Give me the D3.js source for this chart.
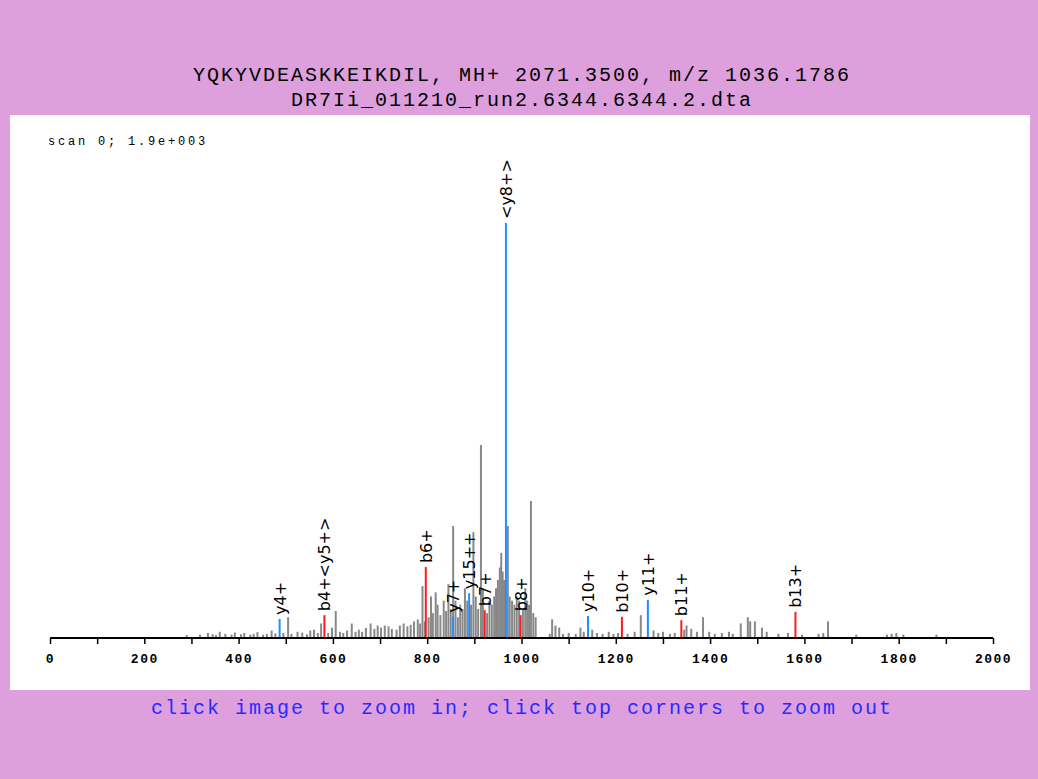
<!DOCTYPE html>
<html><head><meta charset="utf-8">
<script src="https://cdn.jsdelivr.net/npm/d3@7"></script>
<style>
body{margin:0;background:#dda0dd;}
svg{display:block;}
</style></head>
<body><svg id="c" width="1038" height="779"></svg>
<script>
// title lines
const titleLines = ["YQKYVDEASKKEIKDIL, MH+ 2071.3500, m/z 1036.1786", "DR7Ii_011210_run2.6344.6344.2.dta"];
const scanLabel = "scan 0; 1.9e+003";
const footer = "click image to zoom in; click top corners to zoom out";

// unassigned peaks: m/z and relative intensity (%)
const grayMz = [290,318,335,345,352,360,372,385,392,405,412,425,432,440,452,460,470,478,495,505,512,525,535,545,552,560,568,575,590,598,606,615,622,630,640,648,655,662,670,680,688,695,702,710,718,725,735,742,750,758,765,772,780,785,790,795,803,808,812,818,822,828,835,840,845,850,855,860,865,870,875,880,885,893,898,903,908,914,918,927,932,937,942,946,950,954,957,960,963,971,975,980,985,990,995,1003,1008,1012,1016,1020,1025,1030,1060,1065,1072,1080,1088,1100,1115,1125,1132,1150,1160,1172,1185,1195,1205,1225,1240,1253,1280,1290,1300,1315,1325,1345,1350,1360,1372,1385,1398,1410,1425,1440,1448,1465,1480,1485,1495,1510,1520,1545,1565,1595,1630,1640,1650,1710,1775,1785,1795,1810,1880];
const grayInt = [0.7,0.8,1.2,0.9,0.7,1.5,1.0,0.8,1.3,0.9,1.2,0.8,1.0,1.4,0.8,1.0,1.8,1.1,1.2,5.0,1.0,1.5,1.3,0.9,1.8,2.0,1.2,3.5,1.2,2.5,6.5,1.5,1.2,1.8,3.5,1.5,2.0,1.5,2.4,3.5,2.2,3.0,2.5,3.0,2.8,2.2,2.0,3.0,3.5,2.8,3.2,4.0,4.5,3.5,12.5,4.0,5.0,10.0,6.0,11.0,8.0,5.5,9.0,6.5,13.0,7.0,27.0,9.0,5.0,8.0,7.0,12.0,9.0,8.0,25.5,10.0,7.0,46.5,12.0,6.0,9.0,8.0,10.0,12.0,14.0,17.0,20.5,16.0,14.0,27.0,10.0,9.0,8.0,10.0,9.0,7.0,12.0,9.0,8.0,33.0,6.0,5.0,1.0,4.5,3.0,2.5,1.0,1.2,1.0,2.5,1.5,2.0,1.2,1.0,1.5,1.0,1.2,1.0,1.5,5.5,1.8,1.2,1.5,1.0,1.2,2.0,3.0,2.2,1.5,5.0,1.5,1.0,1.2,1.5,1.0,3.5,5.0,4.0,4.0,2.5,1.5,1.0,1.2,0.8,1.0,1.2,4.0,0.8,0.8,1.0,1.2,0.8,0.8];

// assigned fragment ions
const ionLabels = ["y4+","b4+<y5+>","b6+","y7+","y15++","b7+","<y8+>","b8+","y10+","b10+","y11+","b11+","b13+"];
const ionMz = [487,582,797,855,889,922,967,998,1141,1213,1268,1339,1581];
const ionInt = [4.6,5.5,17.1,5.1,10.8,6.7,100,5.5,5.3,5.1,9.2,4.3,6.3];
const ionType = ["y","b","b","y","y","b","y","b","y","b","y","b","b"];

const xTicks = d3.range(0, 2001, 100);

const mono = "'Liberation Mono','DejaVu Sans Mono',monospace";
const svg = d3.select("#c");
svg.append("rect").attr("x",10).attr("y",115).attr("width",1020).attr("height",575).attr("fill","#fff");

svg.selectAll("text.title").data(titleLines).enter().append("text")
  .attr("x",522).attr("y",(d,i)=>81+i*25).attr("text-anchor","middle")
  .style("font-family",mono).style("font-size","20px").style("letter-spacing","2px").attr("fill","#000")
  .text(d=>d);

svg.append("text").attr("x",48).attr("y",145).style("font-family",mono)
  .style("font-size","12px").style("letter-spacing","2.8px").text(scanLabel);

svg.append("text").attr("x",522).attr("y",714).attr("text-anchor","middle")
  .style("font-family",mono).style("font-size","20px").style("letter-spacing","2px").attr("fill","#2a2aff")
  .text(footer);

const x = d3.scaleLinear().domain([0,2000]).range([50,993]);
const y = d3.scaleLinear().domain([0,100]).range([638,223]);

svg.selectAll("line.g").data(grayMz).enter().append("line")
  .attr("x1",d=>x(d)).attr("x2",d=>x(d)).attr("y1",y(0)).attr("y2",(d,i)=>y(grayInt[i]))
  .attr("stroke","#888").attr("stroke-width",2);

svg.selectAll("line.ion").data(ionMz).enter().append("line")
  .attr("x1",d=>x(d)).attr("x2",d=>x(d)).attr("y1",y(0)).attr("y2",(d,i)=>y(ionInt[i]))
  .attr("stroke",(d,i)=>ionType[i]==="y"?"#1e90ff":"#ff1a1a").attr("stroke-width",2);

svg.selectAll("text.ion").data(ionMz).enter().append("text")
  .attr("transform",(d,i)=>`translate(${x(d)+6},${y(ionInt[i])-4}) rotate(-90)`)
  .style("font-family","'DejaVu Sans',sans-serif").style("font-size","16px")
  .text((d,i)=>ionLabels[i]);

const axis = d3.axisBottom(x).tickValues(xTicks).tickSize(6)
  .tickFormat(d=>d%200===0?d:"");
const g = svg.append("g").attr("transform",`translate(0,${y(0)})`).call(axis);
g.select(".domain").attr("stroke","#000").attr("stroke-width",2).attr("d","M50,0H993");
g.selectAll("text").attr("dy","1.2em").style("font-family",mono)
  .style("font-size","13px").style("font-weight","bold").style("letter-spacing","1.5px");
g.selectAll("line").attr("stroke-width",1.5);
</script></body></html>
